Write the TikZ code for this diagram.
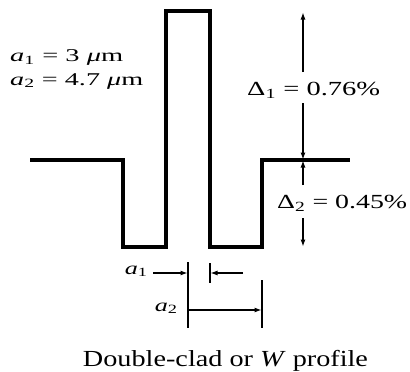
\documentclass[tikz,border=0pt]{standalone}
\usepackage{fontspec}
\setmainfont{Liberation Serif}
\usepackage{graphicx}
\usetikzlibrary{arrows.meta,positioning,calc}
\newcommand{\wfit}[2]{\resizebox{#1}{\height}{#2}}
\tikzset{
    profile/.style={
        line width=3.2pt,line join=miter
    },
    dimline/.style={
        line width=1.5pt
    },
    dimarrow/.style={
        -{Latex[length=7.5pt,width=5pt]},line width=1.5pt
    },
    lbl/.style={
        inner sep=0pt,font=\fontsize{18}{22}\selectfont
    },
    big/.style={
        inner sep=0pt,font=\fontsize{20}{24}\selectfont
    }
}

\begin{document}
\begin{tikzpicture}[x=1pt,y=-1pt]
\useasboundingbox (0,0) rectangle (410,372);

\draw[profile] (30,160) -- (123,160) -- (123,247) -- (166,247) -- (166,11)
-- (210,11) -- (210,247) -- (262,247) -- (262,160) -- (350,160);

\node[lbl,anchor=base west] (v1) at (10,61.5)
{\wfit{113pt}{\textit{a}\textsubscript{1} = 3 \textit{μ}m}};
\node[lbl,anchor=base west] (v2) at (10,85)
{\wfit{133pt}{\textit{a}\textsubscript{2} = 4.7 \textit{μ}m}};

\coordinate (dtop) at (303,12);
\coordinate (dmid) at (303,160);
\coordinate (dbot) at (303,247);
\coordinate (g1) at (303,72);
\coordinate (g2) at (303,103);
\coordinate (g3) at (303,185);
\coordinate (g4) at (303,218);

\node[big,anchor=base west] (d1) at (247,95)
{\wfit{133pt}{Δ\textsubscript{1} = 0.76\%}};
\node[big,anchor=base west] (d2) at (277,208)
{\wfit{130pt}{Δ\textsubscript{2} = 0.45\%}};

\draw[dimarrow] (g1) -- (dtop);
\draw[dimarrow] (g2) -- (dmid);
\draw[dimarrow] (g3) -- (dmid);
\draw[dimarrow] (g4) -- (dbot);

\coordinate (c1) at (188,262);
\coordinate (c2) at (188,328);
\coordinate (e1) at (210,263);
\coordinate (e2) at (210,283);
\coordinate (f1) at (262,280);
\coordinate (f2) at (262,328);
\draw[dimline] (c1) -- (c2);
\draw[dimline] (e1) -- (e2);
\draw[dimline] (f1) -- (f2);

\node[lbl,anchor=base east] (r1) at (148,274)
{\wfit{23pt}{\textit{a}\textsubscript{1}}};
\node[lbl,anchor=base east] (r2) at (178,311)
{\wfit{23pt}{\textit{a}\textsubscript{2}}};

\coordinate (p1) at (153,273);
\coordinate (p2) at (243,273);
\coordinate (q1) at (188,310);
\draw[dimarrow] (p1) -- (p1 -| c1);
\draw[dimarrow] (p2) -- (p2 -| e1);
\draw[dimarrow] (q1) -- (q1 -| f1);

\node[inner sep=0pt,font=\fontsize{23}{27}\selectfont] (cap) at (225.5,361)
{\wfit{285pt}{Double-clad or \textit{W} profile}};

\end{tikzpicture}
\end{document}
